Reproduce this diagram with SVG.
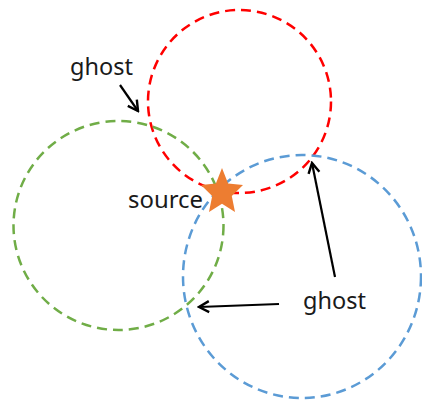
<svg xmlns="http://www.w3.org/2000/svg" width="422" height="401" viewBox="0 0 422 401">
  <style>
    .ring { fill: none; stroke-width: 2.5; stroke-dasharray: 10 6; }
    .label { font-family: "Noto Sans", "Liberation Sans", sans-serif; font-size: 23px; fill: #1a1a1a; }
    .arrow { fill: none; stroke: #000; stroke-width: 2.2; marker-end: url(#open); }
  </style>
  <defs>
    <marker id="open" viewBox="0 0 14 14" refX="12" refY="7" markerWidth="14" markerHeight="14" markerUnits="userSpaceOnUse" orient="auto">
      <polyline points="2,1.5 12,7 2,12.5" fill="none" stroke="#000" stroke-width="2.4"/>
    </marker>
  </defs>
  <rect width="422" height="401" fill="#fff"/>

  <g id="circle-red">
    <circle class="ring" cx="239.5" cy="101.5" r="91.5" stroke="#FF0000"/>
  </g>
  <g id="circle-green">
    <ellipse class="ring" cx="118.5" cy="225.5" rx="105" ry="104.5" stroke="#70AD47"/>
  </g>
  <g id="circle-blue">
    <ellipse class="ring" cx="302" cy="276.5" rx="119" ry="121.5" stroke="#5B9BD5"/>
  </g>

  <g id="source">
    <polygon fill="#ED7D31" points="222,168 228.1,183.4 243,185 231.8,196 235,212 222,203.8 209,212 212.2,196 201,185 215.9,183.4"/>
    <text class="label" x="128" y="208" textLength="75" lengthAdjust="spacingAndGlyphs">source</text>
  </g>

  <g id="ghost-top">
    <text class="label" x="70" y="75" textLength="63" lengthAdjust="spacingAndGlyphs">ghost</text>
  </g>
  <g id="ghost-right">
    <text class="label" x="303" y="309" textLength="63" lengthAdjust="spacingAndGlyphs">ghost</text>
  </g>

  <g id="connectors">
    <line class="arrow" x1="120" y1="85" x2="138" y2="111"/>
    <line class="arrow" x1="335" y1="277" x2="312" y2="163"/>
    <line class="arrow" x1="279" y1="304" x2="199" y2="307"/>
  </g>
</svg>
